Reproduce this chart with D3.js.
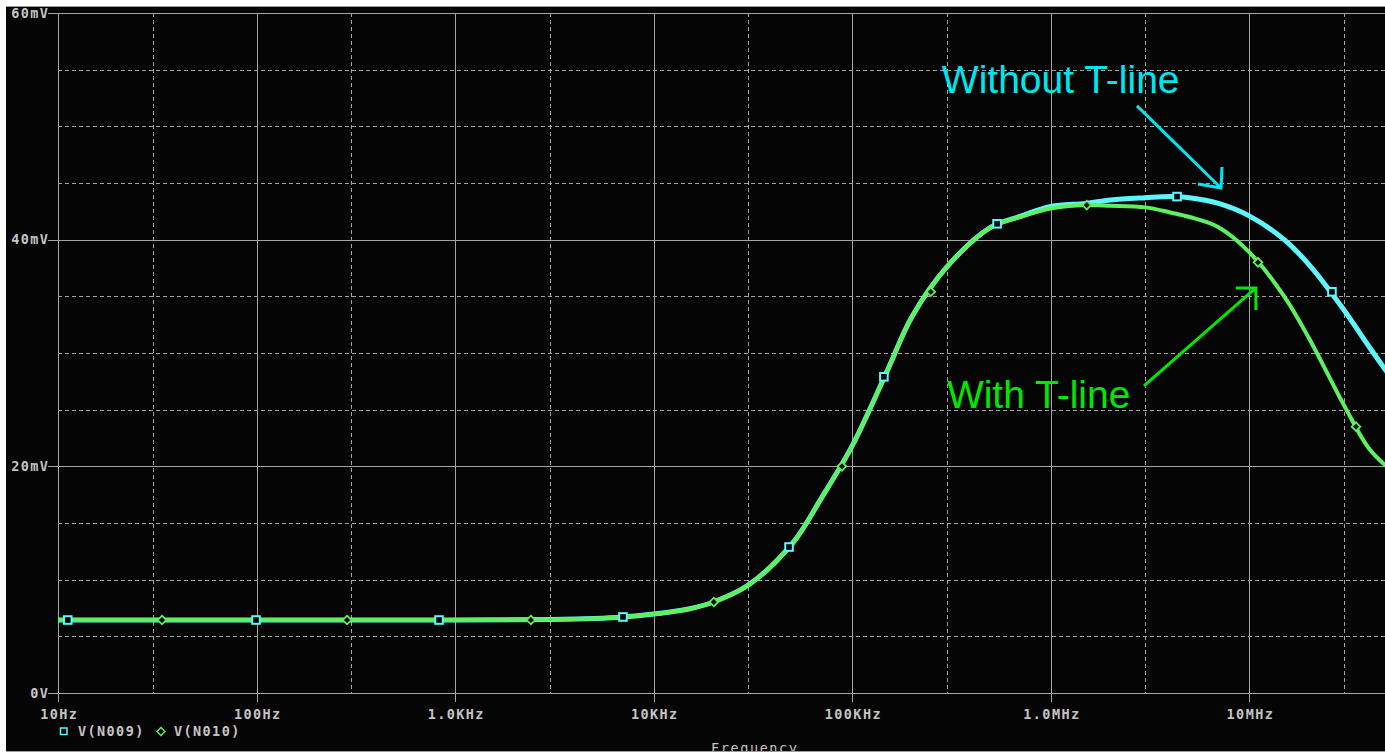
<!DOCTYPE html>
<html><head><meta charset="utf-8">
<script src="https://cdn.jsdelivr.net/npm/d3@7"></script>
<style>html,body{margin:0;padding:0;background:#fff;overflow:hidden}</style>
</head><body>
<script>
// ---------- data ----------
const freqs  = [10,100,1e3,3e3,5e3,7e3,1e4,1.5e4,2e4,3e4,5e4,7e4,1e5,1.5e5,2e5,3e5,5e5,7e5,1e6,1.5e6,2e6,3e6,4e6,5e6,7e6,1e7,1.5e7,2e7,3e7,4e7,5e7];
const vN009  = [6.44,6.44,6.44,6.49,6.57,6.70,6.97,7.41,8.03,9.53,13.2,17.2,21.8,28.4,33.2,37.6,41.1,42.05,42.93,43.2,43.5,43.7,43.8,43.7,43.2,42.1,40.0,37.8,33.8,30.6,28.2];
const vN010  = [6.44,6.44,6.44,6.49,6.57,6.70,6.97,7.41,8.03,9.53,13.2,17.2,21.8,28.4,33.2,37.6,41.1,42.0,42.75,43.05,43.0,42.85,42.4,42.0,41.1,38.9,35.0,31.3,25.4,21.6,19.9];
const mkFreqN009 = [11.2,99.4,830,7.01e3,48.1e3,144.5e3,537e3,4.33e6,26.1e6];
const mkValN009  = [6.44,6.44,6.44,6.71,12.88,27.9,41.4,43.8,35.4];
const mkFreqN010 = [33.4,285.6,2.41e3,20.1e3,88.9e3,249e3,1.52e6,11.07e6,34.5e6];
const mkValN010  = [6.44,6.44,6.44,8.03,20.0,35.4,43.05,38.0,23.5];
const xTickVals   = [10,100,1e3,1e4,1e5,1e6,1e7];
const xTickLabels = ["10Hz","100Hz","1.0KHz","10KHz","100KHz","1.0MHz","10MHz"];
const xMinorVals  = [30,300,3e3,3e4,3e5,3e6,3e7];
const yTickVals   = [0,20,40,60];
const yTickLabels = ["0V","20mV","40mV","60mV"];
const yMinorVals  = [5,10,15,25,30,35,45,50,55];
const seriesNames = ["V(N009)","V(N010)"];
const annotText   = ["Without T-line","With T-line"];
// annotation anchors in data units: [textFreq, textmV, arrowStartFreq, startmV, tipFreq, tipmV]
const annotN009 = [283e3, 52.94, 2.72e6, 51.8, 7.21e6, 44.56];
const annotN010 = [300e3, 25.15, 2.95e6, 27.09, 10.8e6, 35.74];

// ---------- layout ----------
const W = 1385, H = 755;
const L = 58, T = 13, B = 693, R = 1388;
const cCyan = "#5ef6fc", cGreen = "#5ef05e", cGrid = "#a4a4a4", cText = "#c4c4c4";
const aCyan = "#00e6ee", aGreen = "#00e800";

const svg = d3.select("body").append("svg").attr("width", W).attr("height", H);
svg.append("rect").attr("x",0).attr("y",0).attr("width",W).attr("height",H).attr("fill","#fff");
svg.append("rect").attr("x",6).attr("y",6).attr("width",W-6).attr("height",746).attr("fill","#050505");
svg.append("line").attr("x1",6).attr("x2",W).attr("y1",6.5).attr("y2",6.5).attr("stroke","#9a9a9a");

const x = d3.scaleLog().domain([10, 5e7]).range([L, R]);
const y = d3.scaleLinear().domain([0, 60]).range([B, T]);

const font = "'DejaVu Sans Mono', monospace";

// grid
const g = svg.append("g");
g.selectAll(".vmin").data(xMinorVals).join("line")
  .attr("x1", d => Math.round(x(d))+0.5).attr("x2", d => Math.round(x(d))+0.5)
  .attr("y1", T).attr("y2", B).attr("stroke", cGrid).attr("stroke-dasharray","4,3");
g.selectAll(".hmin").data(yMinorVals).join("line")
  .attr("x1", L).attr("x2", W).attr("y1", d => Math.round(y(d))+0.5).attr("y2", d => Math.round(y(d))+0.5)
  .attr("stroke", cGrid).attr("stroke-dasharray","4,3");
g.selectAll(".vmaj").data(xTickVals).join("line")
  .attr("x1", d => Math.round(x(d))+0.5).attr("x2", d => Math.round(x(d))+0.5)
  .attr("y1", T).attr("y2", B+9).attr("stroke", cGrid);
g.selectAll(".hmaj").data(yTickVals).join("line")
  .attr("x1", L-10).attr("x2", W).attr("y1", d => Math.round(y(d))+0.5).attr("y2", d => Math.round(y(d))+0.5)
  .attr("stroke", cGrid);

// tick labels
const ls = 1.4;
const lblStyle = sel => sel.attr("fill", cText)
  .style("font-family", font).style("font-weight","bold").style("font-size","13.5px").style("letter-spacing", ls+"px");
svg.selectAll(".ylab").data(yTickVals).join("text")
  .attr("x", 48 + ls).attr("y", d => y(d) + 4.8)
  .attr("text-anchor","end").call(lblStyle)
  .text((d,i) => yTickLabels[i]);
svg.selectAll(".xlab").data(xTickVals).join("text")
  .attr("x", d => x(d) + ls/2 + 0.5).attr("y", 718.5)
  .attr("text-anchor","middle").call(lblStyle)
  .text((d,i) => xTickLabels[i]);

// curves
svg.append("clipPath").attr("id","pc").append("rect")
  .attr("x", L).attr("y", T).attr("width", W-L).attr("height", B-T);
const plot = svg.append("g").attr("clip-path","url(#pc)");
const line = d3.line().x(d => x(d[0])).y(d => y(d[1])).curve(d3.curveCatmullRom.alpha(0.5));
const d9 = freqs.map((f,i) => [f, vN009[i]]);
const d10 = freqs.map((f,i) => [f, vN010[i]]);
plot.append("path").attr("d", line(d9)).attr("fill","none").attr("stroke", cCyan).attr("stroke-width",5);
plot.append("path").attr("d", line(d10)).attr("fill","none").attr("stroke", cGreen).attr("stroke-width",4);

// markers
plot.selectAll(".sq").data(mkFreqN009.map((f,i)=>[f,mkValN009[i]])).join("rect")
  .attr("x", d => x(d[0]) - 3.8).attr("y", d => y(d[1]) - 3.8).attr("width", 7.6).attr("height", 7.6)
  .attr("fill","#050505").attr("stroke", cCyan).attr("stroke-width", 2);
const diamond = (cx, cy, r) => `M${cx},${cy-r}L${cx+r},${cy}L${cx},${cy+r}L${cx-r},${cy}Z`;
plot.selectAll(".dm").data(mkFreqN010.map((f,i)=>[f,mkValN010[i]])).join("path")
  .attr("d", d => diamond(x(d[0]), y(d[1]), 4.3))
  .attr("fill","#050505").attr("stroke", cGreen).attr("stroke-width", 1.8);

// annotations
function annot(a, txt, col, head) {
  svg.append("text").attr("x", x(a[0])).attr("y", y(a[1])).attr("fill", col)
    .style("font-family","'Liberation Sans', Arial, sans-serif").style("font-size","39px").text(txt);
  const tx = x(a[4]), ty = y(a[5]);
  svg.append("path")
    .attr("d", `M${x(a[2])},${y(a[3])}L${tx},${ty}M${tx+head[0]},${ty+head[1]}L${tx},${ty}L${tx+head[2]},${ty+head[3]}`)
    .attr("fill","none").attr("stroke", col).attr("stroke-width", 3);
}
annot(annotN009, annotText[0], aCyan, [-23,-4, 1,-21]);
annot(annotN010, annotText[1], aGreen, [-20,0, 0,22]);

// legend
svg.append("rect").attr("x", 60.5).attr("y", 728).attr("width", 6.5).attr("height", 6.5)
  .attr("fill","none").attr("stroke", cCyan).attr("stroke-width",1.5);
svg.append("text").attr("x", 78).attr("y", 736).call(lblStyle).text(seriesNames[0]);
svg.append("path").attr("d", diamond(161, 731.5, 4)).attr("fill","none").attr("stroke", cGreen).attr("stroke-width",1.5);
svg.append("text").attr("x", 174).attr("y", 736).call(lblStyle).text(seriesNames[1]);

// axis title (cut by bottom border)
svg.append("text").attr("x", 711).attr("y", 753).attr("fill", cText)
  .style("font-family", font).style("font-size","13.5px").style("letter-spacing","1.6px")
  .text("Frequency");
svg.append("rect").attr("x",0).attr("y",752).attr("width",W).attr("height",3).attr("fill","#fff");
svg.append("line").attr("x1",6).attr("x2",W).attr("y1",751.5).attr("y2",751.5).attr("stroke","#9a9a9a");
</script>
</body></html>
